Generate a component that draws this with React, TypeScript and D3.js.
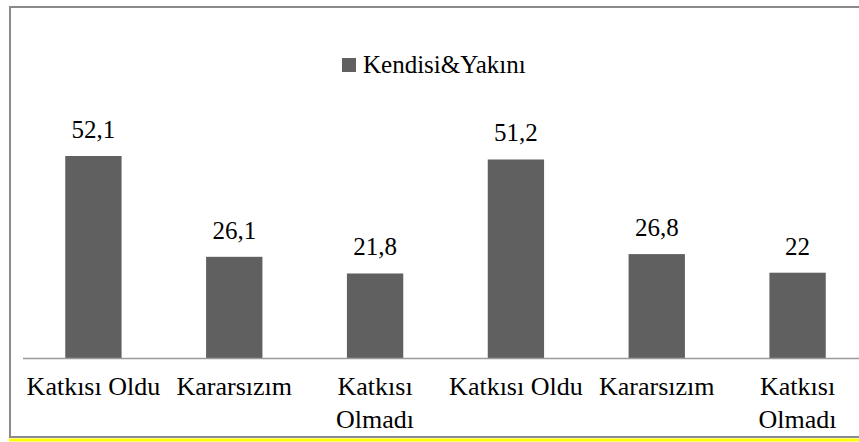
import React from 'react';
import * as d3 from 'd3';

// data
const categories = ['Katkısı Oldu', 'Kararsızım', 'Katkısı\nOlmadı', 'Katkısı Oldu', 'Kararsızım', 'Katkısı\nOlmadı'];
const values = [52.1, 26.1, 21.8, 51.2, 26.8, 22];
const seriesName = 'Kendisi&Yakını';

const W = 859, H = 442;
const textStyle = { fontFamily: "'Liberation Serif', Tinos, 'DejaVu Serif', serif" };

const App = () => {
  const axisY = 358;
  const x = d3.scaleBand<number>()
    .domain(d3.range(categories.length))
    .range([23, 868])
    .paddingInner(0.6)
    .paddingOuter(0.3);
  const y = d3.scaleLinear().domain([0, 60]).range([axisY, axisY - 60 * 3.877]);
  const fmt = (v: number) => String(v).replace('.', ',');
  const cx = (i: number) => (x(i) as number) + x.bandwidth() / 2;

  return (
    <svg width={W} height={H} style={{ position: 'absolute', left: 0, top: 0 }}>
      <rect x={0} y={0} width={W} height={H} fill="#fff" />
      {/* chart frame */}
      <rect x={10} y={7} width={W + 10} height={430} fill="none" stroke="#8a8a8a" strokeWidth={2} />
      <line x1={9} x2={W} y1={440} y2={440} stroke="#ffff00" strokeWidth={3} />

      {/* legend */}
      <rect x={342} y={58} width={14} height={14} fill="#606060" />
      <text x={363} y={73} fontSize={25} fill="#000" style={textStyle}>{seriesName}</text>

      {/* bars */}
      {values.map((v, i) => (
        <g key={i}>
          <rect x={x(i)} y={y(v)} width={x.bandwidth()} height={axisY - y(v)} fill="#606060" />
          <text x={cx(i)} y={y(v) - 18} fontSize={25} textAnchor="middle" fill="#000" style={textStyle}>
            {fmt(v)}
          </text>
        </g>
      ))}

      {/* axis line */}
      <line x1={23} x2={W} y1={axisY + 0.5} y2={axisY + 0.5} stroke="#9a9a9a" strokeWidth={1.5} />

      {/* category labels */}
      {categories.map((c, i) => (
        <text key={i} x={cx(i)} y={395} fontSize={26} textAnchor="middle" fill="#000" style={textStyle}>
          {c.split('\n').map((line, j) => (
            <tspan key={j} x={cx(i)} dy={j === 0 ? 0 : 33}>{line}</tspan>
          ))}
        </text>
      ))}
    </svg>
  );
};

export default App;
